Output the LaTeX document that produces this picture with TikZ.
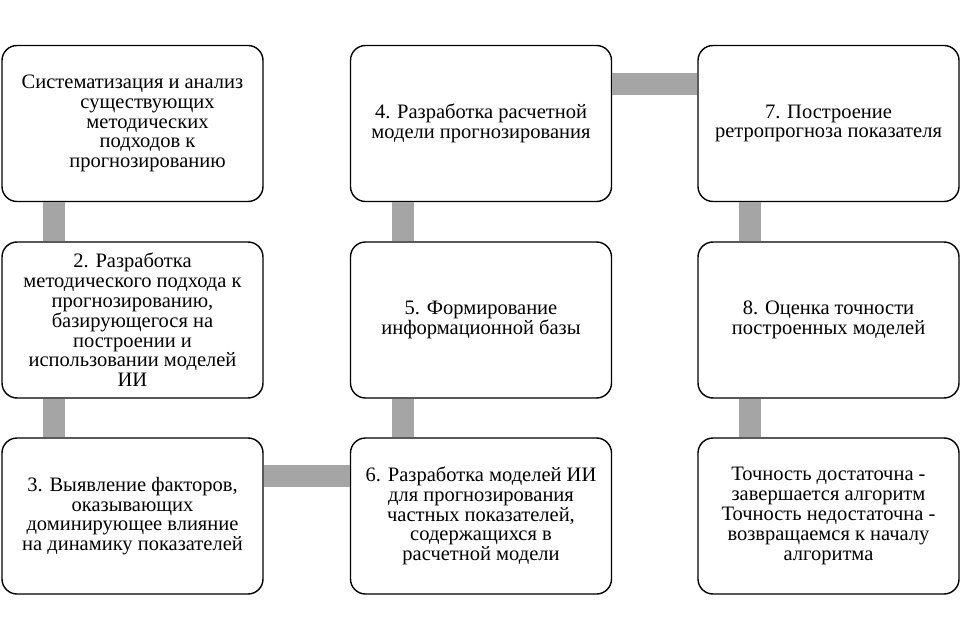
\documentclass[tikz,border=0pt]{standalone}
\usepackage{fontspec}
\setmainfont{Liberation Serif}
\tikzset{
    stage/.style={draw=black, line width=1.4pt, rounded corners=15pt, fill=white,
        minimum width=261pt, minimum height=156pt, align=center,
        font=\rmfamily\fontsize{20.5}{19.8}\selectfont},
    link/.style={draw={rgb,255:red,165;green,165;blue,165}, line width=22pt}
}
\begin{document}
    \begin{tikzpicture}[x=1pt, y=-1pt]
        \useasboundingbox (0,0) rectangle (961,639);
        % Below nodes are the stages.
            \node[stage] (s1) at (132.5, 123.5) {Систематизация и анализ\\\hspace*{30pt}существующих\\\hspace*{30pt}методических\\\hspace*{30pt}подходов к\\\hspace*{30pt}прогнозированию};
            \node[stage] (s2) at (132.5, 320) {2. Разработка\\методического подхода к\\прогнозированию,\\базирующегося на\\построении и\\использовании моделей\\ИИ};
            \node[stage] (s3) at (132.5, 516) {3. Выявление факторов,\\оказывающих\\доминирующее влияние\\на динамику показателей};
            \node[stage] (s4) at (481, 123.5) {4. Разработка расчетной\\модели прогнозирования};
            \node[stage] (s5) at (481, 320) {5. Формирование\\информационной базы};
            \node[stage] (s6) at (481, 516) {6. Разработка моделей ИИ\\для прогнозирования\\частных показателей,\\содержащихся в\\расчетной модели};
            \node[stage] (s7) at (828.5, 123.5) {7. Построение\\ретропрогноза показателя};
            \node[stage] (s8) at (828.5, 320) {8. Оценка точности\\построенных моделей};
            \node[stage] (s9) at (828.5, 516) {Точность достаточна -\\завершается алгоритм\\Точность недостаточна -\\возвращаемся к началу\\алгоритма};
        % The gray bars join the stages.
            \path[link] ([xshift=53pt]s1.south west) -- ([xshift=53pt]s2.north west);
            \path[link] ([xshift=53pt]s2.south west) -- ([xshift=53pt]s3.north west);
            \path[link] ([yshift=-39pt]s3.north east) -- ([yshift=-39pt]s6.north west);
            \path[link] ([xshift=53pt]s6.north west) -- ([xshift=53pt]s5.south west);
            \path[link] ([xshift=53pt]s5.north west) -- ([xshift=53pt]s4.south west);
            \path[link] ([yshift=-39pt]s4.north east) -- ([yshift=-39pt]s7.north west);
            \path[link] ([xshift=53pt]s7.south west) -- ([xshift=53pt]s8.north west);
            \path[link] ([xshift=53pt]s8.south west) -- ([xshift=53pt]s9.north west);
    \end{tikzpicture}
\end{document}
